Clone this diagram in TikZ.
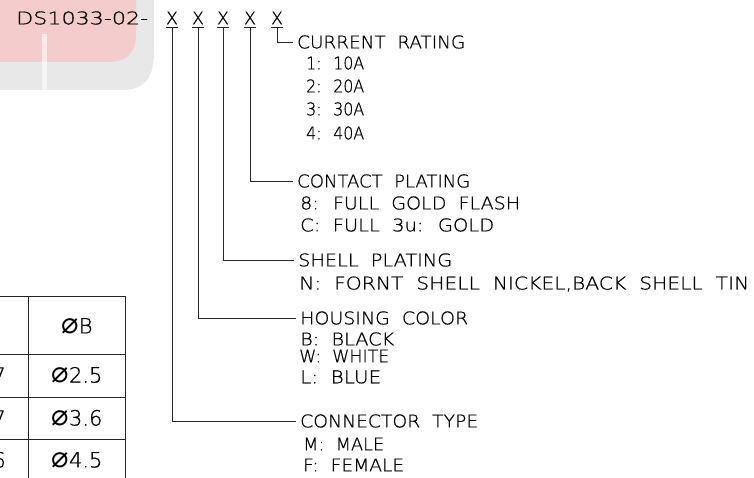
\documentclass[tikz,border=0pt]{standalone}
\usepackage{fontspec}
\usepackage{xcolor}
\usepackage{graphicx}
\newfontfamily\cadfont[FakeBold=0.8,WordSpace=2]{DejaVu Sans ExtraLight}
\newfontfamily\diafont{DejaVu Sans}
\newcommand\fitto[2]{\resizebox{#1pt}{\height}{#2}}
\newcommand\dia{{\diafont\fontsize{29}{30}\selectfont ⌀}}
\definecolor{markpink}{RGB}{245,204,204}
\definecolor{markgray}{RGB}{232,232,232}
\tikzset{
  cad/.style={font=\cadfont\fontsize{17.5}{20}\selectfont,inner sep=0pt,anchor=west},
  head/.style={cad,inner xsep=4pt},
  pick/.style={font=\cadfont\fontsize{17.5}{20}\selectfont,inner xsep=0pt,inner ysep=2.5pt},
  cell/.style={font=\cadfont\fontsize{21}{24}\selectfont,inner sep=0pt},
  lead/.style={line width=0.75pt,black!85},
}

\begin{document}
\begin{tikzpicture}[x=1pt,y=-1pt]
\useasboundingbox (0,0) rectangle (754,478);
% faded logo behind the code
\fill[markgray] (0,90) -- (122,90) .. controls (146,90) and (154,76) .. (154,52) -- (154,0) -- (0,0) -- cycle;
\fill[markpink] (0,62) -- (108,62) .. controls (128,62) and (136,52) .. (136,34) -- (136,0) -- (0,0) -- cycle;
\fill[white,opacity=0.6] (42,34) rectangle (47,92);

% part number
\node[cad] (code) at (16,18) {\fitto{132}{DS1033-02-}};
\node[pick] (x1) at (172,18) {X};
\node[pick] (x2) at (198,18) {X};
\node[pick] (x3) at (223,18) {X};
\node[pick] (x4) at (250,18) {X};
\node[pick] (x5) at (277,18) {X};

% option groups
\node[head] (rating) at (293,42) {\fitto{168}{CURRENT RATING}};
\node[cad] (r1) at (306,63) {\fitto{58}{1: 10A}};
\node[cad] (r2) at (306,86) {\fitto{58}{2: 20A}};
\node[cad] (r3) at (306,109) {\fitto{58}{3: 30A}};
\node[cad] (r4) at (306,133) {\fitto{58}{4: 40A}};

\node[head] (contact) at (293,181) {\fitto{173}{CONTACT PLATING}};
\node[cad] (c8) at (300,203) {\fitto{220}{8: FULL GOLD FLASH}};
\node[cad] (cc) at (300,225) {\fitto{194}{C: FULL 3u: GOLD}};

\node[head] (shell) at (294,260) {\fitto{154}{SHELL PLATING}};
\node[cad] (sn) at (299,284) {\fitto{450}{N: FORNT SHELL NICKEL,BACK SHELL TIN}};

\node[head] (housing) at (296,318) {\fitto{168}{HOUSING COLOR}};
\node[cad] (hb) at (300,339) {\fitto{94}{B: BLACK}};
\node[cad] (hw) at (299,356) {\fitto{90}{W: WHITE}};
\node[cad] (hl) at (300,377) {\fitto{81}{L: BLUE}};

\node[head] (ctype) at (296,421) {\fitto{178}{CONNECTOR TYPE}};
\node[cad] (tm) at (303,444) {\fitto{81}{M: MALE}};
\node[cad] (tf) at (303,465) {\fitto{101}{F: FEMALE}};

% leaders
\foreach \k in {x1,x2,x3,x4,x5}
  \draw[lead] (\k.south west) -- (\k.south east);
\draw[lead] (x5.south) |- (rating.west);
\draw[lead] (x4.south) |- (contact.west);
\draw[lead] (x3.south) |- (shell.west);
\draw[lead] (x2.south) |- (housing.west);
\draw[lead] (x1.south) |- (ctype.west);

% table
\draw[lead] (0,296) -- (125,296);
\draw[lead] (0,354) -- (125,354);
\draw[lead] (0,397) -- (125,397);
\draw[lead] (0,439) -- (125,439);
\draw[lead] (28,296) -- (28,478);
\draw[lead] (125,296) -- (125,478);
\node[cell] (bh) at (77,326) {\dia B};
\node[cell] (b1) at (77,375) {\dia 2.5};
\node[cell] (b2) at (77,418) {\dia 3.6};
\node[cell] (b3) at (77,460) {\dia 4.5};
\node[cell,anchor=east] (a1) at (6,375) {7};
\node[cell,anchor=east] (a2) at (6,418) {7};
\node[cell,anchor=east] (a3) at (6,460) {6};
\end{tikzpicture}
\end{document}
